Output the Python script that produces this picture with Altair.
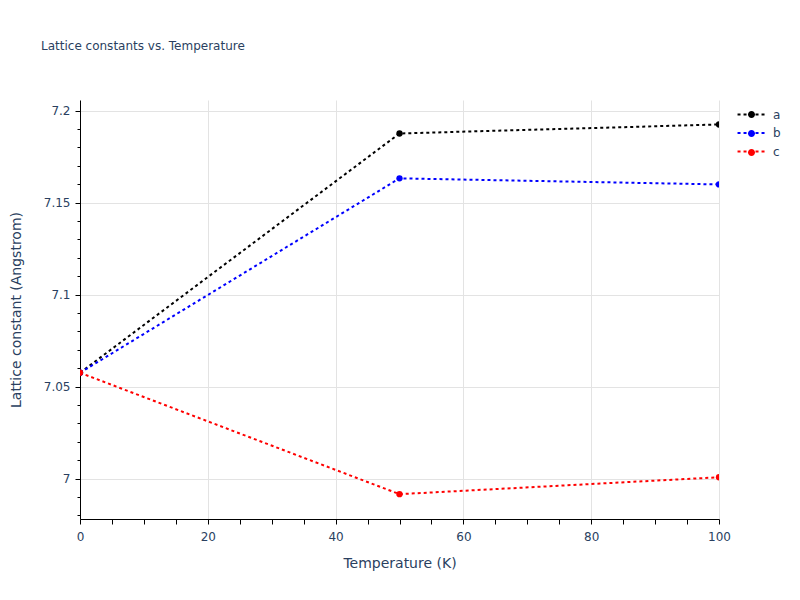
import altair as alt
import pandas as pd

temperature = [0, 50, 100]
a_vals = [7.0575, 7.1876, 7.1925]
b_vals = [7.0575, 7.1632, 7.1599]
c_vals = [7.0575, 6.9915, 7.0007]
series_names = ["a", "b", "c"]
series_colors = ["#000000", "#0000ff", "#ff0000"]

x_major = [0, 20, 40, 60, 80, 100]
x_ticks = [0, 5, 10, 15, 20, 25, 30, 35, 40, 45, 50, 55, 60, 65, 70, 75, 80, 85, 90, 95, 100]
y_major = [7.0, 7.05, 7.1, 7.15, 7.2]
y_ticks = [6.98, 6.99, 7.0, 7.01, 7.02, 7.03, 7.04, 7.05, 7.06, 7.07, 7.08, 7.09,
           7.1, 7.11, 7.12, 7.13, 7.14, 7.15, 7.16, 7.17, 7.18, 7.19, 7.2]

rows = []
for name, vals in zip(series_names, [a_vals, b_vals, c_vals]):
    for t, v in zip(temperature, vals):
        rows.append({"T": t, "L": v, "series": name})
df = pd.DataFrame(rows)

FONT = "DejaVu Sans"
TXT = "#2a3f5f"

xmaj = "indexof([" + ",".join(str(v) for v in x_major) + "], datum.value) >= 0"
ymaj = "indexof([" + ",".join(str(v) for v in y_major) + "], datum.value) >= 0"

x_enc = alt.X(
    "T:Q",
    scale=alt.Scale(domain=[0, 100], nice=False, zero=False),
    axis=alt.Axis(
        title="Temperature (K)",
        values=x_ticks,
        labelExpr=f"{xmaj} ? format(datum.value, '~g') : ''",
        gridOpacity={"condition": {"test": xmaj, "value": 1}, "value": 0},
        tickSize=5,
        labelPadding=7,
        titlePadding=14,
        labelFlush=False,
    ),
)
y_enc = alt.Y(
    "L:Q",
    scale=alt.Scale(domain=[6.978, 7.2058], nice=False, zero=False),
    axis=alt.Axis(
        title="Lattice constant (Angstrom)",
        values=y_ticks,
        labelExpr=f"{ymaj} ? format(datum.value, '~g') : ''",
        gridOpacity={"condition": {"test": ymaj, "value": 1}, "value": 0},
        tickSize={"condition": {"test": ymaj, "value": 5}, "value": 3},
        labelPadding=5,
        titlePadding=20,
        labelFlush=False,
    ),
)

color_scale = alt.Scale(domain=series_names, range=series_colors)

LEG_X = 661
LEG_Y = 4
LEG_SIZE = 361

lines = alt.Chart(df).mark_line(strokeDash=[3, 3], strokeWidth=2, clip=True).encode(
    x=x_enc,
    y=y_enc,
    stroke=alt.Stroke(
        "series:N",
        scale=color_scale,
        legend=alt.Legend(
            title=None,
            orient="none",
            legendX=LEG_X,
            legendY=LEG_Y,
            symbolType="M-1.47,0H1.47",
            symbolSize=LEG_SIZE,
            symbolStrokeWidth=2,
            symbolDash=[3, 3],
            rowPadding=1.5,
            labelOffset=11,
            labelFontSize=12,
            labelFont=FONT,
            labelColor=TXT,
            padding=0,
        ),
    ),
    detail="series:N",
)

points = alt.Chart(df).mark_point(filled=True, size=40, opacity=1, clip=True).encode(
    x=x_enc,
    y=y_enc,
    fill=alt.Fill(
        "series:N",
        scale=color_scale,
        legend=alt.Legend(
            title=None,
            orient="none",
            legendX=LEG_X,
            legendY=LEG_Y,
            symbolType="M-0.37,0A0.37,0.37,0,1,1,0.37,0A0.37,0.37,0,1,1,-0.37,0Z",
            symbolSize=LEG_SIZE,
            symbolStrokeWidth=2,
            symbolStrokeColor="transparent",
            rowPadding=0,
            labelOffset=11,
            labelFontSize=12,
            labelFont=FONT,
            labelOpacity=0,
            padding=0,
        ),
    ),
)

chart = (
    alt.layer(lines, points)
    .resolve_scale(stroke="independent", fill="independent")
    .properties(
        width=639,
        height=419,
        title=alt.TitleParams(
            "Lattice constants vs. Temperature",
            anchor="start",
            frame="group",
            dx=-39,
            offset=47,
            font=FONT,
            fontSize=12,
            fontWeight="normal",
            color=TXT,
        ),
        autosize=alt.AutoSizeParams(type="none"),
        padding={"left": 72, "top": 92, "right": 72, "bottom": 60},
    )
    .configure_view(stroke=None)
    .configure_axis(
        labelFont=FONT,
        labelFontSize=12,
        labelColor=TXT,
        titleFont=FONT,
        titleFontSize=14,
        titleFontWeight="normal",
        titleColor=TXT,
        domainColor="#000000",
        domainWidth=1,
        tickColor="#000000",
        gridColor="#e3e3e3",
        gridWidth=1,
    )
)

chart.save("out.html", embed_options={"renderer": "svg", "actions": False})
